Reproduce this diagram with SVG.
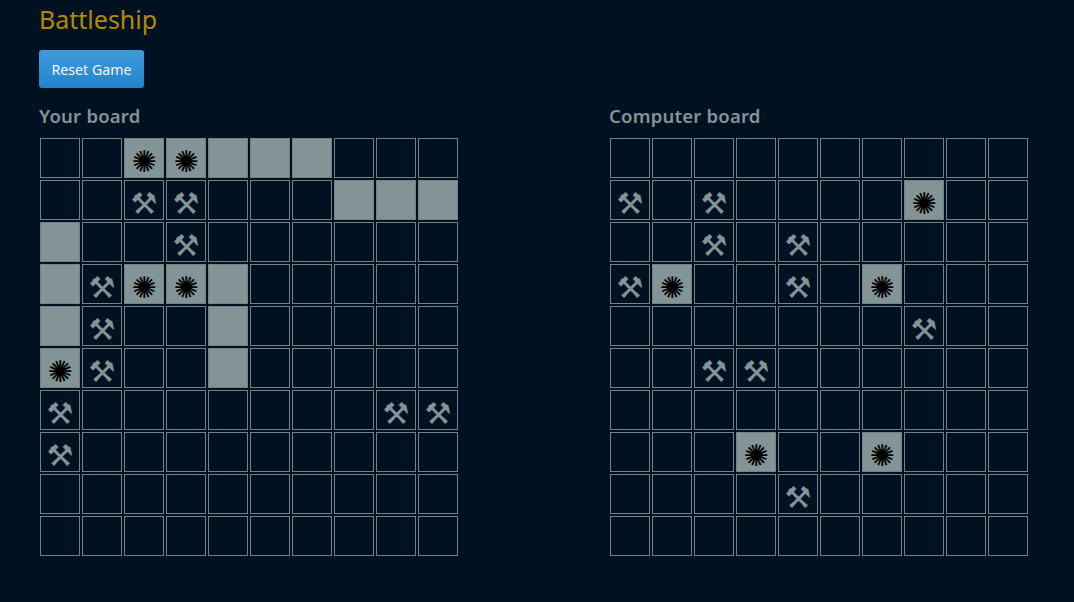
<svg xmlns="http://www.w3.org/2000/svg" xmlns:xlink="http://www.w3.org/1999/xlink" width="1074" height="602" viewBox="0 0 1074 602">
<style>
.t{font-family:"Noto Sans","Open Sans",sans-serif}
.h{font-size:18.5px;font-weight:600;fill:#839496;letter-spacing:.22px}
.c{fill:none;stroke:#7b7f82;stroke-width:1}
.s{fill:#839496;stroke:#7b7f82;stroke-width:1}
.m{font-family:"DejaVu Sans",sans-serif;font-size:30px;fill:#839496;text-anchor:middle}
.x{font-family:"DejaVu Sans",sans-serif;font-size:30px;fill:#000;text-anchor:middle}
</style>
<defs>
<linearGradient id="b" x1="0" y1="0" x2="0" y2="1"><stop offset="0" stop-color="#3f9bdc"/><stop offset="1" stop-color="#2283cd"/></linearGradient>
<g id="row">
<rect class="c" x=".5" y=".5" width="39" height="39"/><rect class="c" x="42.5" y=".5" width="39" height="39"/><rect class="c" x="84.5" y=".5" width="39" height="39"/><rect class="c" x="126.5" y=".5" width="39" height="39"/><rect class="c" x="168.5" y=".5" width="39" height="39"/><rect class="c" x="210.5" y=".5" width="39" height="39"/><rect class="c" x="252.5" y=".5" width="39" height="39"/><rect class="c" x="294.5" y=".5" width="39" height="39"/><rect class="c" x="336.5" y=".5" width="39" height="39"/><rect class="c" x="378.5" y=".5" width="39" height="39"/>
</g>
</defs>
<rect width="1074" height="602" fill="#001122"/>
<text id="title" class="t" x="39" y="29" font-size="25" fill="#b58900">Battleship</text>
<g id="reset">
<rect x="39" y="50" width="105" height="38" rx="3" fill="url(#b)"/>
<text class="t" x="91.5" y="75" font-size="14.2" fill="#f2f6f8" text-anchor="middle">Reset Game</text>
</g>
<g id="your-board">
<text class="t h" x="39" y="123">Your board</text>
<use xlink:href="#row" x="40" y="138"/><use xlink:href="#row" x="40" y="180"/><use xlink:href="#row" x="40" y="222"/><use xlink:href="#row" x="40" y="264"/><use xlink:href="#row" x="40" y="306"/><use xlink:href="#row" x="40" y="348"/><use xlink:href="#row" x="40" y="390"/><use xlink:href="#row" x="40" y="432"/><use xlink:href="#row" x="40" y="474"/><use xlink:href="#row" x="40" y="516"/>
<g id="your-ships">
<rect class="s" x="124.5" y="138.5" width="39" height="39"/><rect class="s" x="166.5" y="138.5" width="39" height="39"/><rect class="s" x="208.5" y="138.5" width="39" height="39"/><rect class="s" x="250.5" y="138.5" width="39" height="39"/><rect class="s" x="292.5" y="138.5" width="39" height="39"/>
<rect class="s" x="334.5" y="180.5" width="39" height="39"/><rect class="s" x="376.5" y="180.5" width="39" height="39"/><rect class="s" x="418.5" y="180.5" width="39" height="39"/>
<rect class="s" x="40.5" y="222.5" width="39" height="39"/>
<rect class="s" x="40.5" y="264.5" width="39" height="39"/><rect class="s" x="124.5" y="264.5" width="39" height="39"/><rect class="s" x="166.5" y="264.5" width="39" height="39"/><rect class="s" x="208.5" y="264.5" width="39" height="39"/>
<rect class="s" x="40.5" y="306.5" width="39" height="39"/><rect class="s" x="208.5" y="306.5" width="39" height="39"/>
<rect class="s" x="40.5" y="348.5" width="39" height="39"/><rect class="s" x="208.5" y="348.5" width="39" height="39"/>
</g>
<g id="your-hits">
<text class="x" x="144" y="172">✺</text><text class="x" x="186" y="172">✺</text><text class="x" x="144" y="298">✺</text><text class="x" x="186" y="298">✺</text><text class="x" x="60" y="382">✺</text>
</g>
<g id="your-misses">
<text class="m" x="144" y="214">⚒</text><text class="m" x="186" y="214">⚒</text><text class="m" x="186" y="256">⚒</text><text class="m" x="102" y="298">⚒</text><text class="m" x="102" y="340">⚒</text><text class="m" x="102" y="382">⚒</text><text class="m" x="60" y="424">⚒</text><text class="m" x="396" y="424">⚒</text><text class="m" x="438" y="424">⚒</text><text class="m" x="60" y="466">⚒</text>
</g>
</g>
<g id="computer-board">
<text class="t h" x="609" y="123">Computer board</text>
<use xlink:href="#row" x="610" y="138"/><use xlink:href="#row" x="610" y="180"/><use xlink:href="#row" x="610" y="222"/><use xlink:href="#row" x="610" y="264"/><use xlink:href="#row" x="610" y="306"/><use xlink:href="#row" x="610" y="348"/><use xlink:href="#row" x="610" y="390"/><use xlink:href="#row" x="610" y="432"/><use xlink:href="#row" x="610" y="474"/><use xlink:href="#row" x="610" y="516"/>
<g id="computer-ships">
<rect class="s" x="904.5" y="180.5" width="39" height="39"/><rect class="s" x="652.5" y="264.5" width="39" height="39"/><rect class="s" x="862.5" y="264.5" width="39" height="39"/><rect class="s" x="736.5" y="432.5" width="39" height="39"/><rect class="s" x="862.5" y="432.5" width="39" height="39"/>
</g>
<g id="computer-hits">
<text class="x" x="924" y="214">✺</text><text class="x" x="672" y="298">✺</text><text class="x" x="882" y="298">✺</text><text class="x" x="756" y="466">✺</text><text class="x" x="882" y="466">✺</text>
</g>
<g id="computer-misses">
<text class="m" x="630" y="214">⚒</text><text class="m" x="714" y="214">⚒</text><text class="m" x="714" y="256">⚒</text><text class="m" x="798" y="256">⚒</text><text class="m" x="630" y="298">⚒</text><text class="m" x="798" y="298">⚒</text><text class="m" x="924" y="340">⚒</text><text class="m" x="714" y="382">⚒</text><text class="m" x="756" y="382">⚒</text><text class="m" x="798" y="508">⚒</text>
</g>
</g>
</svg>
